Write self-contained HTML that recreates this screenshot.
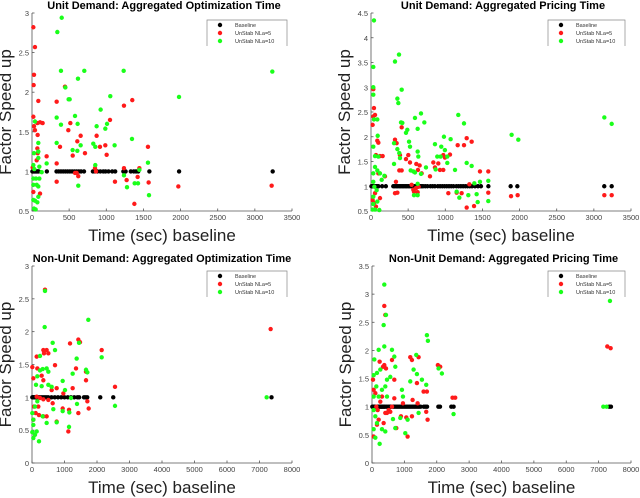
<!DOCTYPE html>
<html><head><meta charset="utf-8"><style>
body{margin:0;background:#fff;}
svg{display:block;font-family:"Liberation Sans",sans-serif;}
</style></head><body>
<svg id="chart" width="640" height="498" viewBox="0 0 640 498"></svg>
<script>
// ---- Panel 1 data: Unit Demand, Aggregated Optimization Time
const p1BaseX=[5,10,20,30,40,50,60,70,80,90,200,330,360,390,420,450,480,510,540,570,600,630,660,700,820,850,880,920,960,990,1030,1080,1120,1230,1260,1330,1370,1400,1430,1580,1980,3240];
const p1RedX=[18,40,27,22,85,18,27,40,72,108,143,76,72,76,63,197,18,108,9,332,332,332,377,444,489,516,548,579,610,623,655,713,870,915,987,1005,1050,1117,1238,1238,1274,1350,1378,1422,1445,1561,1570,1970,3226,601,848,861];
const p1RedY=[2.82,2.57,2.22,2.09,1.89,1.69,1.57,1.52,1.61,1.62,1.61,1.46,1.29,1.23,1.14,1.19,0.74,0.72,1.05,1.88,1.10,0.87,1.31,2.07,1.52,1.61,1.2,0.98,1.38,0.94,1.45,1.23,1.45,1.31,1.33,1.21,1.65,0.87,1.83,1.04,0.89,1.9,0.59,0.93,1.04,1.31,0.86,0.81,0.82,0.98,1.04,1.0];
const p1GreenX=[400,341,390,704,619,449,493,507,1054,1234,1979,3235,332,579,390,614,924,1010,987,870,332,547,610,655,825,852,1112,1346,1561,197,852,1238,623,1279,1382,1427,1575,1445,40,27,18,31,18,54,18,63,18,40,72,27,49,85,85,85,99,99,130,85,85];
const p1GreenY=[2.94,2.76,2.27,2.27,2.17,2.06,1.91,1.91,1.95,2.27,1.94,2.26,1.68,1.7,1.59,1.6,1.78,1.6,1.54,1.57,1.36,1.27,1.26,1.33,1.35,1.31,1.33,1.41,1.11,1.1,1.08,0.95,0.82,0.8,0.85,0.85,0.7,1.02,1.63,1.23,1.08,1.03,0.91,0.91,0.83,0.83,0.64,0.63,0.61,0.53,0.52,1.25,1.36,1.17,1.06,0.91,0.99,0.81,0.68];
// ---- Panel 2 data: Unit Demand, Aggregated Pricing Time
const p2BaseX=[5,15,25,35,45,55,65,75,85,100,150,200,300,320,340,360,380,400,420,440,460,480,500,520,540,560,580,600,620,640,660,680,700,730,760,800,830,860,900,930,960,990,1020,1050,1080,1110,1150,1180,1210,1240,1270,1300,1330,1360,1400,1440,1480,1580,1880,1970,3140,3240];
const p2RedX=[31,40,54,31,22,85,99,67,121,157,188,99,121,54,22,40,67,323,345,336,323,355,390,381,413,413,471,502,525,547,570,579,605,628,641,610,655,632,682,794,839,861,906,928,973,973,995,1063,1041,1153,1167,1252,1288,1355,1324,1288,1387,1467,1579,1579,1885,1974,3141,3240,1220];
const p2RedY=[2.96,2.58,2.44,2.41,2.24,1.92,1.88,1.63,1.61,1.61,1.2,1.26,0.76,0.86,0.72,0.66,0.59,1.94,1.87,1.09,0.86,0.87,1.63,1.32,1.32,2.19,1.55,1.63,1.48,1.03,0.93,0.89,0.96,0.88,0.99,1.45,1.42,1.33,1.26,1.2,1.48,1.38,1.46,1.33,1.33,1.63,1.58,1.64,0.86,0.87,1.83,1.83,1.97,1.9,1.04,0.57,0.6,1.3,1.3,0.87,0.8,0.82,0.82,0.82,0.86];
const p2GreenX=[40,31,31,31,40,85,90,31,54,99,31,54,85,31,45,76,31,85,31,54,22,112,121,180,144,323,377,355,368,413,404,422,310,355,381,390,310,471,489,512,525,534,592,570,628,637,628,628,579,592,628,673,718,740,673,861,892,937,870,946,982,995,1027,1072,1027,1131,1175,1153,1189,1252,1288,1355,1310,1391,1436,1467,1579,1579,1893,1983,3141,3240,1422];
const p2GreenY=[4.35,3.41,3.0,2.85,2.35,2.35,2.02,1.8,1.61,1.6,1.26,1.39,1.32,1.09,0.99,0.92,0.79,0.69,0.64,0.53,0.53,0.52,1.26,1.21,1.13,3.52,3.66,2.77,2.68,2.95,2.29,2.28,1.87,1.75,1.67,1.57,1.45,2.08,2.14,1.9,1.8,1.32,1.28,1.3,1.7,1.6,1.05,0.82,0.82,2.38,2.16,2.47,2.29,1.38,1.25,1.85,1.6,1.6,1.34,1.8,2.0,1.73,1.6,1.95,1.47,1.33,2.44,0.89,0.77,2.27,1.47,1.41,0.82,1.06,0.68,1.09,1.11,0.7,2.04,1.94,2.39,2.26,0.84];
// ---- Panel 3 data: Non-Unit Demand, Aggregated Optimization Time
const p3BaseX=[10,30,50,80,110,150,200,250,300,350,400,450,500,600,700,800,900,1000,1100,1200,1300,1400,1450,1600,1650,1700,2100,2500,7370];
const p3RedX=[400,1170,1426,1477,2144,2554,7343,10,144,164,349,451,503,369,708,349,297,41,144,62,195,113,215,41,349,451,503,636,759,759,944,964,1139,1118,1251,1662,1426,1703,1744,1662,1354,246,349,605];
const p3RedY=[2.64,1.82,1.88,1.84,1.72,1.16,2.04,1.46,1.62,1.44,1.72,1.72,1.67,1.67,1.49,1.26,1.33,1.29,1.01,0.86,0.86,0.76,0.73,0.66,0.71,0.71,0.96,0.91,1.14,0.63,0.83,1.06,0.81,0.48,1.14,1.26,0.76,0.94,0.83,1.39,1.44,0.99,0.97,1.11];
const p3GreenX=[400,390,1733,1447,636,708,1374,2144,1662,1703,1251,246,328,451,503,246,164,123,297,503,605,944,1015,1200,1385,2554,656,944,759,1139,1149,451,328,10,41,10,92,41,215,144,92,164,41,7220];
const p3GreenY=[2.62,2.07,2.18,1.83,1.83,1.72,1.59,1.61,1.42,1.38,1.36,1.63,1.43,1.44,1.39,1.41,1.32,1.19,1.17,1.19,1.16,1.25,1.11,0.99,0.9,0.87,0.82,0.79,0.62,0.55,0.77,0.61,0.71,0.76,0.66,0.47,0.43,0.38,0.33,0.48,0.86,0.94,0.58,1.0];
// ---- Panel 4 data: Non-Unit Demand, Aggregated Pricing Time
const p4BaseX=[10,30,50,70,90,110,130,160,190,220,250,280,310,340,370,400,450,500,550,600,650,700,750,800,850,900,950,1000,1050,1100,1150,1200,1250,1300,1350,1400,1450,1500,1600,1650,1700,2050,2100,2450,2520,7330,7380];
const p4RedX=[380,411,236,380,432,339,617,689,1182,1234,1439,1388,1593,1696,2035,2107,2488,2570,7268,7371,31,51,134,103,175,206,154,51,308,463,514,617,689,750,956,1059,1100,1254,1234,1409,1675,1717,894,565,360,411,257];
const p4RedY=[2.79,2.63,1.8,1.74,1.68,1.71,1.83,1.48,1.88,1.83,1.88,1.42,1.27,1.27,1.74,1.71,1.16,1.16,2.07,2.04,1.48,1.3,1.0,1.24,0.94,0.77,0.68,0.47,1.18,0.89,0.94,1.0,1.15,0.62,1.06,0.81,0.47,1.12,0.83,1.06,0.91,0.77,0.83,0.91,0.71,0.89,1.09];
const p4GreenX=[380,360,432,380,206,617,689,720,1696,1727,1367,1285,1388,1542,1675,2056,2159,72,51,154,257,463,411,565,134,308,206,51,463,925,956,1182,51,103,154,51,103,236,308,411,648,720,1028,1100,1439,2519,7350,7145,7248,874];
const p4GreenY=[3.17,2.45,2.63,2.07,2.01,2.01,1.89,1.71,2.27,2.17,1.92,1.66,1.58,1.48,1.39,1.68,1.59,1.84,1.56,1.6,1.66,1.48,1.36,1.53,1.36,1.3,1.18,1.18,1.18,1.3,1.18,1.45,0.94,0.83,0.71,0.6,0.45,0.34,0.6,0.56,0.78,0.62,0.53,0.77,0.89,0.87,2.88,1.0,1.0,0.8];

const p1XTicks=[0,500,1000,1500,2000,2500,3000,3500];
const p1YTicks=[0.5,1,1.5,2,2.5,3];
const p2YTicks=[0.5,1,1.5,2,2.5,3,3.5,4,4.5];
const p3XTicks=[0,1000,2000,3000,4000,5000,6000,7000,8000];
const p3YTicks=[0,0.5,1,1.5,2,2.5,3];
const p4YTicks=[0,0.5,1,1.5,2,2.5,3,3.5];

const NS='http://www.w3.org/2000/svg';
const svg=document.getElementById('chart');
function mk(tag,attrs,parent){const e=document.createElementNS(NS,tag);for(const k in attrs)e.setAttribute(k,attrs[k]);(parent||svg).appendChild(e);return e;}

const panels=[
 {id:'p1',title:'Unit Demand: Aggregated Optimization Time',L:32,R:292,T:13,B:211,xmax:3500,ymin:0.5,ymax:3,xt:p1XTicks,yt:p1YTicks,bx:p1BaseX,rx:p1RedX,ry:p1RedY,gx:p1GreenX,gy:p1GreenY,leg:[207,20,287],nl:'5'},
 {id:'p2',title:'Unit Demand: Aggregated Pricing Time',L:371,R:631,T:13,B:211,xmax:3500,ymin:0.5,ymax:4.5,xt:p1XTicks,yt:p2YTicks,bx:p2BaseX,rx:p2RedX,ry:p2RedY,gx:p2GreenX,gy:p2GreenY,leg:[548,20,625],nl:'5'},
 {id:'p3',title:'Non-Unit Demand: Aggregated Optimization Time',L:32,R:292,T:266,B:463,xmax:8000,ymin:0,ymax:3,xt:p3XTicks,yt:p3YTicks,bx:p3BaseX,rx:p3RedX,ry:p3RedY,gx:p3GreenX,gy:p3GreenY,leg:[207,271,287],nl:'5'},
 {id:'p4',title:'Non-Unit Demand: Aggregated Pricing Time',L:372,R:631,T:266,B:463,xmax:8000,ymin:0,ymax:3.5,xt:p3XTicks,yt:p4YTicks,bx:p4BaseX,rx:p4RedX,ry:p4RedY,gx:p4GreenX,gy:p4GreenY,leg:[548,271,625],nl:'5'}
];

panels.forEach(p=>{
 const g=mk('g',{});
 
 
 const sx=v=>p.L+(v/p.xmax)*(p.R-p.L);
 const sy=v=>p.B-(v-p.ymin)/(p.ymax-p.ymin)*(p.B-p.T);
 const cx=(p.L+p.R)/2;
 const t=mk('text',{x:cx+(p.id==='p3'?0:2),y:p.T-4,'text-anchor':'middle','font-size':'11','font-weight':'bold',fill:'#000'},g);
 t.textContent=p.title;
 
 
 const ax=mk('path',{d:`M${p.L},${p.T}V${p.B}H${p.R}`,fill:'none',stroke:'#555','stroke-width':'0.8'},g);
 
 
 p.xt.forEach(v=>{
  const x=sx(v);
  mk('line',{x1:x,y1:p.B,x2:x,y2:p.B-2.5,stroke:'#555','stroke-width':'0.8'},g);
  const l=mk('text',{x:x,y:p.B+9,'text-anchor':'middle','font-size':'7.5',fill:'#444'},g);
  l.textContent=v;
  
  
 });
 p.yt.forEach(v=>{
  const y=sy(v);
  mk('line',{x1:p.L,y1:y,x2:p.L+2.5,y2:y,stroke:'#555','stroke-width':'0.8'},g);
  const l=mk('text',{x:p.L-3,y:y+3,'text-anchor':'end','font-size':'7.5',fill:'#444'},g);
  l.textContent=v;
  
  
 });
 const xl=mk('text',{x:cx,y:p.B+30,'text-anchor':'middle','font-size':'17',fill:'#222'},g);
 xl.textContent='Time (sec) baseline';
 
 
 const yx=p.L-21, yy=(p.T+p.B)/2;
 const yl=mk('text',{x:yx,y:yy,'text-anchor':'middle','font-size':'17',fill:'#222',transform:`rotate(-90 ${yx} ${yy})`},g);
 yl.textContent='Factor Speed up';
 
 
 const pts=(xs,ys,col,name)=>{
  xs.forEach((v,i)=>{
   const c=mk('circle',{cx:sx(v),cy:sy(ys?ys[i]:1),r:2.2,fill:col},g);
   
   
  });
 };
 pts(p.bx,null,'#000',p.id+'-baseline-point');
 pts(p.rx,p.ry,'#ff1a1a',p.id+'-unstab-5-point');
 pts(p.gx,p.gy,'#1aff1a',p.id+'-unstab-10-point');
 // legend
 const [lx,ly,lr]=p.leg;
 const lg=mk('g',{},g);
 
 
 mk('rect',{x:lx,y:ly,width:lr-lx,height:26,fill:'#fff'},lg);
 mk('path',{d:`M${lx},${ly+26}V${ly}H${lr}V${ly+26}`,fill:'none',stroke:'#888','stroke-width':'0.7'},lg);
 [['Baseline','#000'],['UnStab NLa='+p.nl,'#ff1a1a'],['UnStab NLa=10','#1aff1a']].forEach((e,i)=>{
  const y=ly+5+i*8;
  mk('circle',{cx:lx+13,cy:y,r:2.2,fill:e[1]},lg);
  const tx=mk('text',{x:lx+28,y:y+2.2,'font-size':'5.5',fill:'#333'},lg);
  tx.textContent=e[0];
  
  
 });
});
</script>
</body></html>
